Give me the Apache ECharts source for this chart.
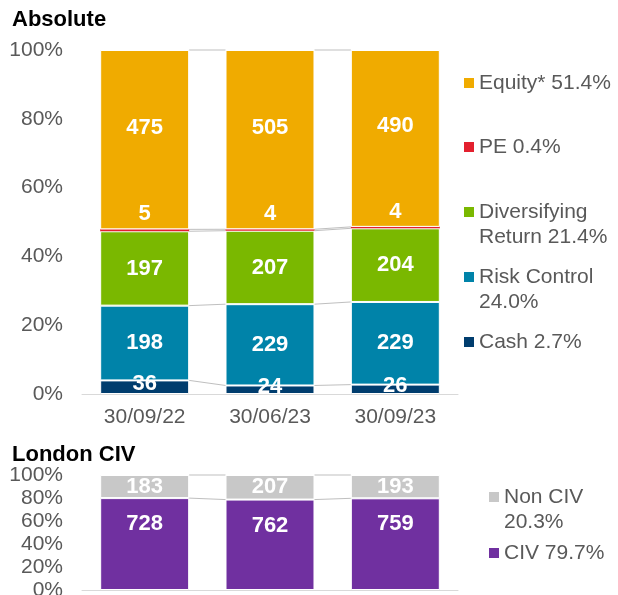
<!DOCTYPE html>
<html>
<head>
<meta charset="utf-8">
<script src="https://cdn.jsdelivr.net/npm/echarts@6/dist/echarts.min.js"></script>
<style>
html,body{margin:0;padding:0;background:#fff;}
#main{width:618px;height:595px;}
</style>
</head>
<body>
<div id="main"></div>
<script>
// ---- Data ----
const categories = ['30/09/22', '30/06/23', '30/09/23'];
const cash = [36, 24, 26];
const riskControl = [198, 229, 229];
const divReturn = [197, 207, 204];
const pe = [5, 4, 4];
const equity = [475, 505, 490];
const civ = [728, 762, 759];
const nonCiv = [183, 207, 193];
const topNames = ['Cash', 'Risk Control', 'Diversifying Return', 'PE', 'Equity*'];
const topLegendLabels = ['Cash 2.7%', 'Risk Control\n24.0%', 'Diversifying\nReturn 21.4%', 'PE 0.4%', 'Equity* 51.4%'];
const botNames = ['CIV', 'Non CIV'];
const botLegendLabels = ['CIV 79.7%', 'Non CIV\n20.3%'];
const titles = ['Absolute', 'London CIV'];

// ---- Styles ----
const FONT = 'Liberation Sans, Arial, sans-serif';
const topColors = ['#003D6E', '#0083A9', '#7AB800', '#E3202E', '#F0AB00'];
const botColors = ['#7030A0', '#C8C8C8'];
const BAR_FRAC = 0.71;

function toPct(arrs) {
  const totals = arrs[0].map((_, i) => arrs.reduce((s, a) => s + a[i], 0));
  return arrs.map(a => a.map((v, i) => v / totals[i] * 100));
}
function connectorData(pcts) {
  const out = [];
  const cum = pcts[0].map(() => 0);
  pcts.forEach(p => {
    p.forEach((v, i) => { cum[i] += v; });
    for (let i = 0; i < cum.length - 1; i++) out.push([i, cum[i], cum[i + 1]]);
  });
  return out;
}
function connectorSeries(pcts, idx) {
  return {
    type: 'custom', xAxisIndex: idx, yAxisIndex: idx, z: 1, silent: true,
    data: connectorData(pcts),
    encode: { x: 0, y: 1 },
    renderItem: function (params, api) {
      const i = api.value(0);
      const p1 = api.coord([i, api.value(1)]);
      const p2 = api.coord([i + 1, api.value(2)]);
      const half = api.size([1, 0])[0] * BAR_FRAC / 2;
      return {
        type: 'line',
        shape: { x1: p1[0] + half, y1: p1[1], x2: p2[0] - half, y2: p2[1] },
        style: { stroke: '#BFBFBF', lineWidth: 1 }
      };
    }
  };
}
function barSeries(name, raw, pct, color, idx, labelOpt, borderW) {
  return {
    name: name, type: 'bar', stack: 'g' + idx, xAxisIndex: idx, yAxisIndex: idx,
    barWidth: (BAR_FRAC * 100) + '%', z: 2,
    data: pct,
    itemStyle: { color: color, borderColor: '#ffffff', borderWidth: borderW },
    label: Object.assign({
      show: true, position: 'inside', color: '#ffffff', fontWeight: 'bold',
      fontSize: 22, fontFamily: FONT,
      formatter: p => String(raw[p.dataIndex])
    }, labelOpt || {})
  };
}

const topRaw = [cash, riskControl, divReturn, pe, equity];
const topPct = toPct(topRaw);
const botRaw = [civ, nonCiv];
const botPct = toPct(botRaw);

const topLabelOpts = [
  { offset: [0, -3] },
  {},
  {},
  { position: 'top', distance: 4 },
  { offset: [0, -12] }
];
const botLabelOpts = [
  { position: 'insideTop', distance: 15 },
  {}
];

const series = [];
series.push(connectorSeries(topPct, 0));
series.push(connectorSeries(botPct, 1));
topNames.forEach((n, k) => series.push(barSeries(n, topRaw[k], topPct[k], topColors[k], 0, topLabelOpts[k], k === 3 ? 0 : 1)));
botNames.forEach((n, k) => series.push(barSeries(n, botRaw[k], botPct[k], botColors[k], 1, botLabelOpts[k], 1)));

const ICON_RECT = 'path://M0,0h10v10h-10z';
const ICON_TOP = 'path://M0,0h10v10h-10zM0,34.9h0.1v0.1h-0.1z';

function makeLegend(name, label, color, left, top) {
  const two = label.indexOf('\n') >= 0;
  return {
    left: left, top: top, padding: 0, orient: 'vertical',
    itemWidth: 10, itemHeight: two ? 35 : 10, itemGap: 0, selectedMode: false,
    data: [{ name: name, icon: two ? ICON_TOP : ICON_RECT, itemStyle: { color: color, borderWidth: 0 } }],
    formatter: () => label,
    textStyle: { fontSize: 21, color: '#595959', fontFamily: FONT, lineHeight: 25, padding: [0, 0, 0, 0] }
  };
}
const legendTops = [329.5, 264.5, 199.5, 134.5, 70.5];
const botLegendTops = [540.5, 484.5];
const legends = [];
topNames.forEach((n, k) => legends.push(makeLegend(n, topLegendLabels[k], topColors[k], 464, legendTops[k])));
botNames.forEach((n, k) => legends.push(makeLegend(n, botLegendLabels[k], botColors[k], 489, botLegendTops[k])));

function xAxis(idx, showLabel) {
  return {
    gridIndex: idx, type: 'category', data: categories,
    axisLine: { lineStyle: { color: '#D9D9D9', width: 1 } },
    axisTick: { show: false },
    axisLabel: { show: showLabel, color: '#595959', fontSize: 21, fontFamily: FONT, margin: 13 }
  };
}
function yAxis(idx) {
  return {
    gridIndex: idx, type: 'value', min: 0, max: 100, interval: 20,
    axisLine: { show: false }, axisTick: { show: false }, splitLine: { show: false },
    axisLabel: { formatter: '{value}%', color: '#595959', fontSize: 21, fontFamily: FONT, margin: 19, hideOverlap: false }
  };
}

const chart = echarts.init(document.getElementById('main'), null, { renderer: 'canvas' });
chart.setOption({
  animation: false,
  backgroundColor: '#ffffff',
  title: [
    { text: titles[0], left: 12, top: 9, padding: 0, textStyle: { fontSize: 22, fontWeight: 'bold', color: '#000', fontFamily: FONT } },
    { text: titles[1], left: 12, top: 444, padding: 0, textStyle: { fontSize: 22, fontWeight: 'bold', color: '#000', fontFamily: FONT } }
  ],
  legend: legends,
  grid: [
    { left: 82, width: 376, top: 50, height: 344, outerBoundsMode: 'none', containLabel: false },
    { left: 82, width: 376, top: 475, height: 115, outerBoundsMode: 'none', containLabel: false }
  ],
  xAxis: [xAxis(0, true), xAxis(1, false)],
  yAxis: [yAxis(0), yAxis(1)],
  series: series
});
</script>
</body>
</html>
